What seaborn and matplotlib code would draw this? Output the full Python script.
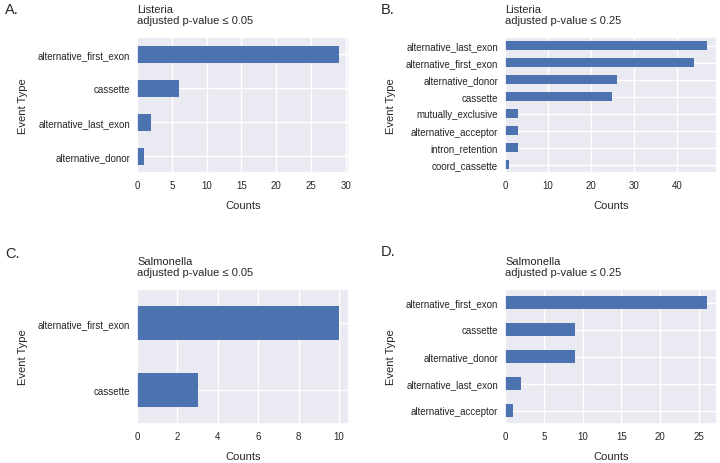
import matplotlib
matplotlib.use("Agg")
import matplotlib.pyplot as plt
import seaborn as sns
import pandas as pd

# ---- data (top-to-bottom order as drawn) ----
a_events = ["alternative_first_exon", "cassette", "alternative_last_exon", "alternative_donor"]
a_counts = [29, 6, 2, 1]

b_events = ["alternative_last_exon", "alternative_first_exon", "alternative_donor", "cassette",
            "mutually_exclusive", "alternative_acceptor", "intron_retention", "coord_cassette"]
b_counts = [47, 44, 26, 25, 3, 3, 3, 1]

c_events = ["alternative_first_exon", "cassette"]
c_counts = [10, 3]

d_events = ["alternative_first_exon", "cassette", "alternative_donor", "alternative_last_exon",
            "alternative_acceptor"]
d_counts = [26, 9, 9, 2, 1]

panel_letters = ["A.", "B.", "C.", "D."]
titles = ["Listeria\nadjusted p-value \u2264 0.05",
          "Listeria\nadjusted p-value \u2264 0.25",
          "Salmonella\nadjusted p-value \u2264 0.05",
          "Salmonella\nadjusted p-value \u2264 0.25"]

sns.set_theme(style="darkgrid")
plt.rcParams['font.family'] = ['Liberation Sans', 'DejaVu Sans']
plt.rcParams['text.color'] = '.15'
plt.rcParams['axes.labelcolor'] = '.15'
plt.rcParams['xtick.color'] = '.15'
plt.rcParams['ytick.color'] = '.15'

W, H = 720, 464
fig = plt.figure(figsize=(W / 100, H / 100), dpi=100)

def box(l, t, r, b):
    return [l / W, 1 - b / H, (r - l) / W, (b - t) / H]

rects = [box(137, 38, 349, 174), box(505, 38, 717, 174),
         box(137, 290, 349, 425), box(505, 290, 717, 425)]
letter_pos = [(5, 3), (381, 3), (5, 247), (381, 245)]

datasets = [(a_events, a_counts), (b_events, b_counts), (c_events, c_counts), (d_events, d_counts)]

for i, ((ev, ct), rect) in enumerate(zip(datasets, rects)):
    ax = fig.add_axes(rect)
    df = pd.DataFrame({"Event Type": ev, "Counts": ct})
    sns.barplot(data=df, y="Event Type", x="Counts", orient="h", color="#4C72B0",
                saturation=1, width=0.5, linewidth=0, ax=ax)
    ax.yaxis.grid(True)
    ax.xaxis.grid(True)
    ax.set_axisbelow(True)
    ax.set_xlim(0, max(ct) * 1.05)
    ax.tick_params(axis='both', labelsize=7, pad=5, length=0)
    ax.set_xlabel("Counts", fontsize=8, labelpad=7)
    ax.set_ylabel("Event Type", fontsize=8, labelpad=7)
    ax.set_title(titles[i], loc='left', fontsize=8, pad=10)
    lx, ly = letter_pos[i]
    fig.text(lx / W, 1 - ly / H, panel_letters[i], fontsize=10.5, ha='left', va='top')

fig.savefig("out.png", dpi=100)
